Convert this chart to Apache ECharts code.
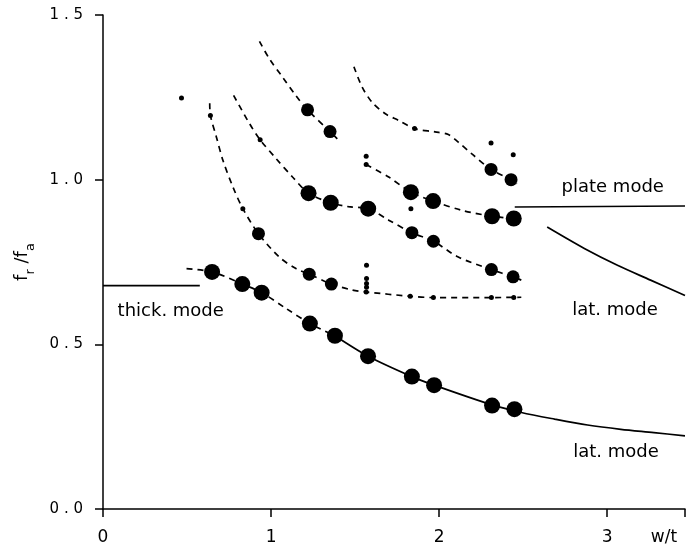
<!DOCTYPE html>
<html>
<head>
<meta charset="utf-8">
<script src="https://cdn.jsdelivr.net/npm/echarts@6/dist/echarts.min.js"></script>
<style>html,body{margin:0;padding:0;background:#fff;}#c{width:688px;height:547px;}</style>
</head>
<body>
<div id="c"></div>
<script>
// ---- axis ranges ----
const xMin = 0, xMax = 3.463, xStep = 1;
const yMin = 0, yMax = 1.5, yStep = 0.5;

// ---- data points ----
const largeDots = [
  [0.649,0.720],[0.829,0.683],[0.944,0.657],[1.231,0.563],[1.380,0.526],[1.577,0.464],
  [1.838,0.402],[1.970,0.376],[2.315,0.314],[2.448,0.303],
  [1.223,0.959],[1.355,0.930],[1.578,0.912],
  [1.832,0.962],[1.964,0.935],[2.315,0.889],[2.444,0.882]
];
const mediumDots = [
  [0.925,0.836],[1.227,0.713],[1.359,0.683],
  [1.838,0.839],[1.966,0.813],[2.311,0.727],[2.440,0.705],
  [1.217,1.212],[1.351,1.146],
  [2.309,1.031],[2.428,1.000]
];
const smallDots = [
  [0.467,1.248],[0.639,1.195],[0.832,0.912],[0.935,1.121],
  [1.568,0.740],[1.568,0.700],[1.568,0.685],[1.568,0.673],[1.566,0.659],
  [1.828,0.646],[1.966,0.642],[2.311,0.642],[2.444,0.642],
  [1.566,1.071],[1.566,1.046],[1.832,0.912],
  [1.854,1.155],[2.309,1.111],[2.441,1.076]
];

// ---- traced curves ----
const curveLowDashed = [[0.497,0.730],[0.649,0.720],[0.829,0.683],[0.944,0.657],[1.089,0.609],[1.231,0.563],[1.380,0.526]];
const curveLowSolid = [[1.380,0.526],[1.577,0.464],[1.838,0.402],[1.970,0.376],[2.315,0.316],[2.489,0.293],[2.686,0.273],[2.883,0.255],[3.081,0.242],[3.278,0.232],[3.463,0.222]];
const curveB = [[0.635,1.232],[0.639,1.195],[0.675,1.129],[0.714,1.058],[0.773,0.978],[0.832,0.912],[0.925,0.836],[1.049,0.765],[1.148,0.730],[1.227,0.713],[1.359,0.683],[1.483,0.665],[1.566,0.659],[1.828,0.646],[1.966,0.642],[2.311,0.642],[2.489,0.643]];
const curveC = [[0.777,1.256],[0.872,1.170],[0.935,1.121],[1.030,1.064],[1.128,1.008],[1.223,0.959],[1.355,0.930],[1.460,0.918],[1.578,0.912],[1.700,0.877],[1.838,0.839],[1.966,0.813],[2.114,0.765],[2.311,0.727],[2.440,0.705],[2.489,0.695]];
const curveD = [[1.566,1.046],[1.700,1.008],[1.832,0.962],[1.964,0.935],[2.134,0.907],[2.315,0.889],[2.444,0.882]];
const curveE = [[1.493,1.343],[1.542,1.281],[1.601,1.235],[1.680,1.200],[1.759,1.180],[1.854,1.155],[1.976,1.145],[2.055,1.137],[2.114,1.114],[2.193,1.079],[2.309,1.031],[2.428,1.000],[2.463,0.988]];
const curveF = [[0.931,1.420],[0.990,1.367],[1.069,1.311],[1.148,1.255],[1.217,1.212],[1.351,1.146],[1.394,1.124]];
const plateLine = [[2.45,0.917],[3.463,0.920]];
const thickLine = [[0,0.678],[0.576,0.678]];
const upperLat = [[2.643,0.856],[2.864,0.791],[3.061,0.740],[3.258,0.695],[3.463,0.648]];

// ---- text annotations ----
const annotations = [
  ["plate mode", 3.033, 0.977],
  ["lat. mode", 3.046, 0.604],
  ["lat. mode", 3.052, 0.171],
  ["thick. mode", 0.403, 0.599]
];

const FONT = 'DejaVu Sans';
const dash = [6,5];

function lineSeries(data, dashed, smooth) {
  return {
    type: 'line', data: data, symbol: 'none', smooth: smooth === undefined ? 0.3 : smooth,
    lineStyle: { color: '#000', width: 1.7, type: dashed ? dash : 'solid', opacity: 1 },
    silent: true, z: 2, animation: false
  };
}
function dotSeries(data, size) {
  return {
    type: 'scatter', data: data, symbol: 'circle', symbolSize: size,
    itemStyle: { color: '#000', opacity: 1 }, z: 5, animation: false, silent: true
  };
}

const chart = echarts.init(document.getElementById('c'), null, { renderer: 'canvas' });
chart.setOption({
  backgroundColor: '#fff',
  animation: false,
  grid: { left: 103, right: 0, top: 15, bottom: 38, containLabel: false },
  xAxis: {
    type: 'value', min: xMin, max: xMax, interval: xStep,
    splitLine: { show: false },
    axisLine: { show: true, onZero: false, lineStyle: { color: '#000', width: 1.5 } },
    axisTick: { show: true, length: 8, lineStyle: { color: '#000', width: 1.5 } },
    axisLabel: {
      margin: 20, fontSize: 17, color: '#000', fontFamily: FONT,
      formatter: v => (Math.abs(v - Math.round(v)) < 1e-9 ? String(Math.round(v)) : '')
    },
    name: 'w/t', nameLocation: 'end', nameGap: -21,
    nameTextStyle: { fontSize: 17, color: '#000', fontFamily: FONT, align: 'center', verticalAlign: 'top', padding: [20,0,0,0] }
  },
  yAxis: {
    type: 'value', min: yMin, max: yMax, interval: yStep,
    splitLine: { show: false },
    axisLine: { show: true, onZero: false, lineStyle: { color: '#000', width: 1.5 } },
    axisTick: { show: true, length: 8, lineStyle: { color: '#000', width: 1.5 } },
    axisLabel: {
      margin: 20, fontSize: 15, color: '#000', fontFamily: FONT,
      formatter: v => v.toFixed(1).split('').join(' ')
    },
    name: '{f|f}{s|r}{f| /}{f|f}{s|a}', nameLocation: 'middle', nameGap: 66, nameRotate: 90,
    nameTextStyle: {
      color: '#000', fontFamily: FONT,
      rich: {
        f: { fontSize: 18, fontFamily: FONT, color: '#000', verticalAlign: 'bottom', padding: [0,0,6,0], lineHeight: 20 },
        s: { fontSize: 13, fontFamily: FONT, color: '#000', verticalAlign: 'bottom', lineHeight: 14 }
      }
    }
  },
  series: [
    lineSeries(curveLowDashed, true),
    lineSeries(curveLowSolid, false),
    lineSeries(curveB, true),
    lineSeries(curveC, true),
    lineSeries(curveD, true),
    lineSeries(curveE, true),
    lineSeries(curveF, true),
    lineSeries(plateLine, false, false),
    lineSeries(thickLine, false, false),
    lineSeries(upperLat, false),
    dotSeries(largeDots, 16),
    dotSeries(mediumDots, 13),
    dotSeries(smallDots, 5),
    {
      type: 'scatter', symbolSize: 0, silent: true, animation: false, clip: false,
      itemStyle: { opacity: 1 },
      data: annotations.map(a => ({ name: a[0], value: [a[1], a[2]] })),
      label: { show: true, position: 'inside', formatter: p => p.name, fontSize: 18, color: '#000', opacity: 1, fontFamily: FONT }
    }
  ]
});
</script>
</body>
</html>
